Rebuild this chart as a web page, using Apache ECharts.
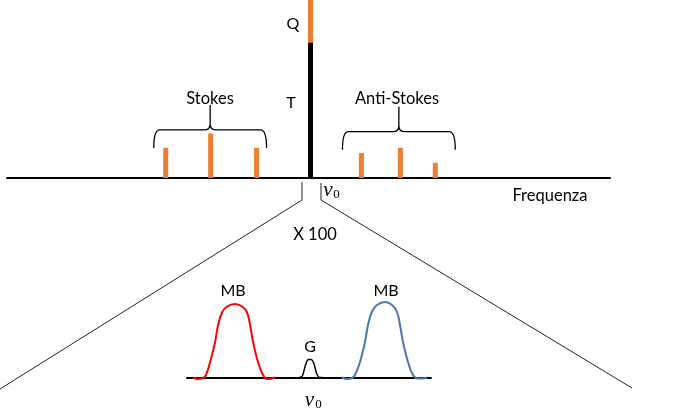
<!DOCTYPE html>
<html>
<head>
<meta charset="utf-8">
<script src="https://cdn.jsdelivr.net/npm/echarts@6/dist/echarts.min.js"></script>
<style>
  html, body { margin: 0; padding: 0; background: #fff; }
  #main { width: 688px; height: 419px; }
</style>
</head>
<body>
<div id="main"></div>
<script>
var dom = document.getElementById('main');
var myChart = echarts.init(dom, null, { renderer: 'canvas' });

// upper spectrum: shift from nu0 (arbitrary units), intensity in % of Rayleigh line
var stokesShift = [-145, -100, -54];
var stokesInt = [17, 25, 17];
var antiShift = [51, 90, 125];
var antiInt = [14, 17, 8.5];
var rayleighT = 76;   // black part (T)
var rayleighQ = 100;  // orange top (Q)
// braces: [from, to, level]
var braces = [[-157, -44, 27], [32, 145, 26]];

// lower (x 100) spectrum: Brillouin doublet and central G line
var mbRed = [[-117, 0], [-112, -1.5], [-107, -0.5], [-104, 2.5], [-100, 15], [-95, 35], [-92, 52],
  [-88, 65], [-83, 71], [-75, 73.5], [-68, 71], [-63, 65], [-60, 53], [-57, 36], [-52, 15.5],
  [-47, 2.5], [-43, -1.5], [-38, -1], [-35, 0]];
var mbBlue = [[32, 0], [37, -1.5], [42, -0.5], [45, 2.5], [50, 15.5], [55, 35.5], [58, 52.5],
  [62, 66], [67, 72.5], [75, 75.5], [82, 72.5], [87, 65.5], [90, 52.5], [93, 35.5], [98, 15.5],
  [103, 2.5], [108, -1], [113, -1], [117, 0]];
var gLine = [[-11, 0], [-8, 1], [-6, 7], [-4, 14], [-1.5, 18], [1, 18], [3.5, 15], [5.5, 8], [7.5, 2],
  [10, 0], [13, 0]];

const orange = '#ED7D31';
const font = 'Lato';

function zip(xs, ys) {
  var out = [];
  for (var i = 0; i < xs.length; i++) out.push([xs[i], ys[i]]);
  return out;
}

function braceItem(params, api) {
  var a = api.coord([api.value(0), api.value(2)]);
  var b = api.coord([api.value(1), api.value(2)]);
  var y = a[1], x0 = a[0], x1 = b[0], xm = (x0 + x1) / 2;
  var r = 6, leg = 18, tip = 25;
  var p = 'M' + x0 + ',' + (y + leg) +
    ' Q' + x0 + ',' + y + ' ' + (x0 + r) + ',' + y +
    ' L' + (xm - r) + ',' + y +
    ' Q' + xm + ',' + y + ' ' + xm + ',' + (y - r) +
    ' L' + xm + ',' + (y - tip) +
    ' M' + xm + ',' + (y - r) +
    ' Q' + xm + ',' + y + ' ' + (xm + r) + ',' + y +
    ' L' + (x1 - r) + ',' + y +
    ' Q' + x1 + ',' + y + ' ' + x1 + ',' + (y + leg);
  return {
    type: 'path',
    shape: { pathData: p },
    style: { fill: 'none', stroke: '#000', lineWidth: 1.3 }
  };
}

function txt(x, y, s, extra) {
  var st = { text: s, x: x, y: y, fill: '#000', font: '16px ' + font, textAlign: 'center', textVerticalAlign: 'middle' };
  if (extra) for (var k in extra) st[k] = extra[k];
  return { type: 'text', silent: true, style: st, z: 100 };
}

var option = {
  animation: false,
  backgroundColor: '#fff',
  grid: [
    { left: 7, right: 78, top: 0, bottom: 241 },
    { left: 187, right: 257, top: 297.5, bottom: 37.5 }
  ],
  xAxis: [
    {
      type: 'value', gridIndex: 0, min: -304, max: 300,
      axisLine: { show: true, lineStyle: { color: '#000', width: 2 } },
      axisTick: { show: false }, axisLabel: { show: false }, splitLine: { show: false }
    },
    {
      type: 'value', gridIndex: 1, min: -123, max: 121,
      axisLine: { show: true, lineStyle: { color: '#000', width: 2 } },
      axisTick: { show: false }, axisLabel: { show: false }, splitLine: { show: false }
    }
  ],
  yAxis: [
    { type: 'value', gridIndex: 0, min: 0, max: 100, show: false },
    { type: 'value', gridIndex: 1, min: -4, max: 80, show: false }
  ],
  series: [
    {
      name: 'Stokes', type: 'bar', xAxisIndex: 0, yAxisIndex: 0,
      barWidth: 5, barGap: '-100%',
      itemStyle: { color: orange },
      data: zip(stokesShift, stokesInt)
    },
    {
      name: 'Anti-Stokes', type: 'bar', xAxisIndex: 0, yAxisIndex: 0,
      barWidth: 5, barGap: '-100%',
      itemStyle: { color: orange },
      data: zip(antiShift, antiInt)
    },
    {
      name: 'Q', type: 'bar', xAxisIndex: 0, yAxisIndex: 0,
      barWidth: 5, barGap: '-100%',
      itemStyle: { color: orange },
      data: [[0, rayleighQ]]
    },
    {
      name: 'T', type: 'bar', xAxisIndex: 0, yAxisIndex: 0,
      barWidth: 5, barGap: '-100%', z: 3,
      itemStyle: { color: '#000' },
      data: [[0, rayleighT]]
    },
    {
      name: 'braces', type: 'custom', xAxisIndex: 0, yAxisIndex: 0,
      renderItem: braceItem, data: braces, silent: true, clip: false
    },
    {
      name: 'MB-', type: 'line', xAxisIndex: 1, yAxisIndex: 1,
      data: mbRed, smooth: 0.4, showSymbol: false,
      lineStyle: { color: '#ff0000', width: 2 }
    },
    {
      name: 'MB+', type: 'line', xAxisIndex: 1, yAxisIndex: 1,
      data: mbBlue, smooth: 0.4, showSymbol: false,
      lineStyle: { color: '#4A77A8', width: 2 }
    },
    {
      name: 'G', type: 'line', xAxisIndex: 1, yAxisIndex: 1,
      data: gLine, smooth: 0.4, showSymbol: false,
      lineStyle: { color: '#000', width: 1.5 }
    }
  ],
  graphic: [
    // zoom lines
    { type: 'polyline', silent: true, shape: { points: [[302, 182], [302, 200], [0, 389]] },
      style: { stroke: '#222', lineWidth: 1, fill: null } },
    { type: 'polyline', silent: true, shape: { points: [[321, 183], [321, 200], [632, 388]] },
      style: { stroke: '#222', lineWidth: 1, fill: null } },
    txt(210, 99, 'Stokes', { font: '16.5px ' + font }),
    txt(397, 99, 'Anti-Stokes', { font: '16.5px ' + font }),
    txt(293, 24, 'Q'),
    txt(291, 103, 'T'),
    txt(550, 196, 'Frequenza', { font: '16.5px ' + font }),
    txt(315, 235, 'X 100', { font: '16.5px ' + font }),
    txt(233, 291, 'MB'),
    txt(386, 291, 'MB'),
    txt(310, 347, 'G'),
    txt(328, 190, 'ν', { font: 'italic 21px "Liberation Serif"' }),
    txt(336.5, 195, '0', { font: '13px "Liberation Serif"' }),
    txt(309.5, 400, 'ν', { font: 'italic 21px "Liberation Serif"' }),
    txt(318.5, 405, '0', { font: '13px "Liberation Serif"' })
  ]
};

myChart.setOption(option);
window.addEventListener('resize', myChart.resize);
</script>
</body>
</html>
